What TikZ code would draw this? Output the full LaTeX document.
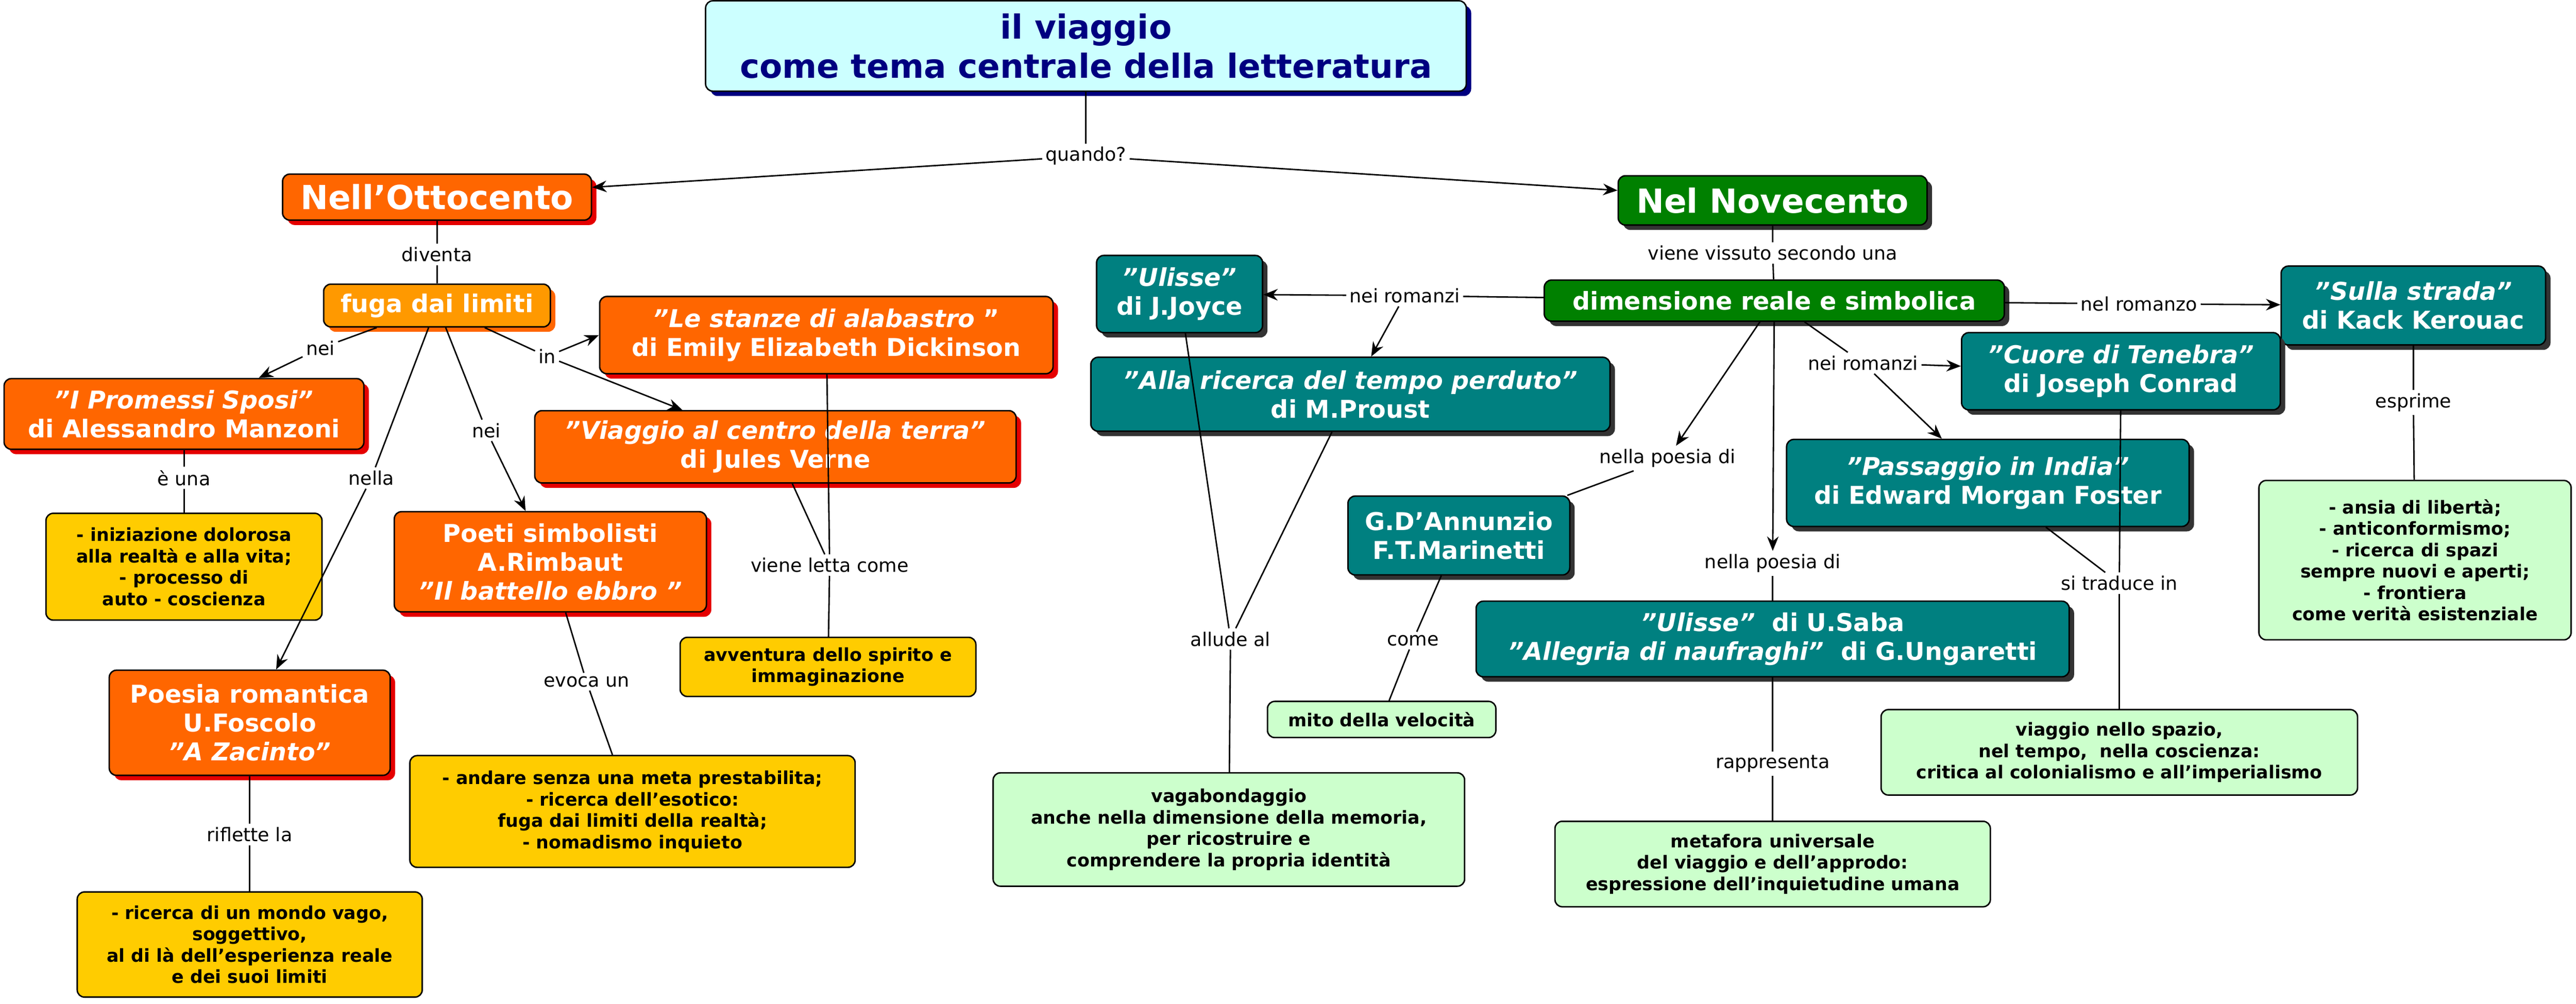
\documentclass[tikz,border=0pt]{standalone}
\usepackage{fontspec}
\setmainfont{DejaVu Sans}
\usetikzlibrary{shadows,arrows.meta}
\definecolor{org}{HTML}{FF6600}
\definecolor{org2}{HTML}{FF9900}
\definecolor{grn}{HTML}{008000}
\definecolor{teal2}{HTML}{008080}
\definecolor{yel}{HTML}{FFCC00}
\definecolor{lgr}{HTML}{CCFFCC}
\definecolor{navy2}{HTML}{000080}
\definecolor{cyan2}{HTML}{CCFFFF}
\begin{document}
\begin{tikzpicture}[x=0.02cm,y=-0.02cm,
 sz/.style 2 args={minimum width=#1*0.02cm, minimum height=#2*0.02cm},
 base/.style={draw=black, rounded corners=2.5pt, align=center, inner sep=1pt, line width=0.5pt},
 con/.style={base, fill=#1, text=white, font=\bfseries\fontsize{8.5}{10}\selectfont},
 cshadow/.style={drop shadow={shadow xshift=1.7pt, shadow yshift=-1.7pt, fill=#1, opacity=1}},
 ora/.style={con=org, cshadow=red!90!black},
 tea/.style={con=teal2, cshadow=black!80},
 gre/.style={con=grn, cshadow=black!80},
 yb/.style={base, fill=yel, font=\bfseries\fontsize{6.2}{7.4}\selectfont},
 gb/.style={base, fill=lgr, font=\bfseries\fontsize{6.2}{7.4}\selectfont},
 lab/.style={fill=white, inner sep=1pt, font=\fontsize{6.5}{7.5}\selectfont},
 ln/.style={line width=0.5pt},
 ar/.style={line width=0.5pt, -{Stealth[length=5pt,width=4pt]}}]
\useasboundingbox (0,0) rectangle (1568,611);
% title
\node[base, fill=cyan2, text=navy2, font=\bfseries\fontsize{11.5}{13.5}\selectfont, sz={463}{55}, cshadow=navy2] (title) at (661,28) {il viaggio\\come tema centrale della letteratura};
\node[lab] (quando) at (661,95) {quando?};
\node[ora, font=\bfseries\fontsize{11.5}{13}\selectfont, sz={188}{28}] (otto) at (266,120) {Nell'Ottocento};
\node[gre, font=\bfseries\fontsize{11.5}{13}\selectfont, sz={188}{30}] (nove) at (1079,122) {Nel Novecento};
% Ottocento branch
\node[lab] (diventa) at (266,155) {diventa};
\node[con=org2, cshadow=org, sz={138}{26}] (fuga) at (266,186) {fuga dai limiti};
\node[lab] (nei1) at (195,212) {nei};
\node[lab] (nella1) at (226,291) {nella};
\node[lab] (nei2) at (296,262) {nei};
\node[lab] (in1) at (333,217) {in};
\node[ora, sz={219}{43}] (spos) at (112,252) {\textit{"I Promessi Sposi"}\\di Alessandro Manzoni};
\node[lab] (euna) at (112,291) {è una};
\node[yb, sz={168}{65}] (iniz) at (112,345) {- iniziazione dolorosa\\alla realtà e alla vita;\\- processo di\\auto - coscienza};
\node[ora, sz={171}{64}] (poes) at (152,440) {Poesia romantica\\U.Foscolo\\\textit{"A Zacinto"}};
\node[lab] (rifl) at (152,508) {riflette la};
\node[yb, sz={210}{64}] (ricm) at (152,575) {- ricerca di un mondo vago,\\soggettivo,\\al di là dell'esperienza reale\\e dei suoi limiti};
\node[ora, sz={276}{47}] (stan) at (503,204) {\textit{"Le stanze di alabastro }"\\di Emily Elizabeth Dickinson};
\node[ora, sz={293}{44}] (verne) at (472,272) {\textit{"Viaggio al centro della terra"}\\di Jules Verne};
\node[ora, sz={190}{61}] (simb) at (335,342) {Poeti simbolisti\\A.Rimbaut\\\textit{"Il battello ebbro "}};
\node[lab] (letta) at (505,344) {viene letta come};
\node[yb, sz={180}{36}] (avv) at (504,406) {avventura dello spirito e\\immaginazione};
\node[lab] (evoca) at (357,415) {evoca un};
\node[yb, sz={271}{68}] (andare) at (385,494) {- andare senza una meta prestabilita;\\- ricerca dell'esotico:\\fuga dai limiti della realtà;\\- nomadismo inquieto};
% Novecento branch
\node[lab] (vissuto) at (1079,154) {viene vissuto secondo una};
\node[gre, sz={280}{25}] (dim) at (1080,183) {dimensione reale e simbolica};
\node[lab] (rom1) at (855,180) {nei romanzi};
\node[tea, sz={101}{47}] (joyce) at (718,179) {\textit{"Ulisse"}\\di J.Joyce};
\node[tea, sz={316}{45}] (proust) at (822,240) {\textit{"Alla ricerca del tempo perduto"}\\di M.Proust};
\node[lab] (allude) at (749,389) {allude al};
\node[gb, sz={287}{69}] (vaga) at (748,505) {vagabondaggio\\anche nella dimensione della memoria,\\per ricostruire e\\comprendere la propria identità};
\node[lab] (rom2) at (1134,221) {nei romanzi};
\node[lab] (nelrom) at (1302,185) {nel romanzo};
\node[tea, sz={161}{48}] (kerouac) at (1469,186) {\textit{"Sulla strada"}\\di Kack Kerouac};
\node[lab] (esprime) at (1469,245) {esprime};
\node[gb, sz={190}{97}] (ansia) at (1470,341) {- ansia di libertà;\\- anticonformismo;\\- ricerca di spazi\\sempre nuovi e aperti;\\- frontiera\\come verità esistenziale};
\node[tea, sz={194}{47}] (conrad) at (1291,226) {\textit{"Cuore di Tenebra"}\\di Joseph Conrad};
\node[tea, sz={245}{53}] (foster) at (1210,294) {\textit{"Passaggio in India"}\\di Edward Morgan Foster};
\node[lab] (traduce) at (1290,355) {si traduce in};
\node[gb, sz={290}{52}] (spazio) at (1290,458) {viaggio nello spazio,\\nel tempo,\ \ nella coscienza:\\critica al colonialismo e all'imperialismo};
\node[lab] (poesia1) at (1015,279) {nella poesia di};
\node[tea, sz={135}{48}] (dann) at (888,326) {G.D'Annunzio\\F.T.Marinetti};
\node[lab] (come) at (860,390) {come};
\node[gb, sz={139}{22}] (mito) at (841,438) {mito della velocità};
\node[lab] (poesia2) at (1079,343) {nella poesia di};
\node[tea, sz={361}{46}] (saba) at (1079,389) {\textit{"Ulisse"}\ \ di U.Saba\\\textit{"Allegria di naufraghi"}\ \ di G.Ungaretti};
\node[lab] (rappr) at (1079,465) {rappresenta};
\node[gb, sz={265}{52}] (meta) at (1079,526) {metafora universale\\del viaggio e dell'approdo:\\espressione dell'inquietudine umana};
% connectors
\draw[ln] (title) -- (quando);
\draw[ar] (quando) -- (otto);
\draw[ar] (quando) -- (nove);
\draw[ln] (otto) -- (diventa) -- (fuga);
\draw[ln] (fuga) -- (nei1); \draw[ar] (nei1) -- (spos);
\draw[ln] (fuga) -- (nella1); \draw[ar] (nella1) -- (poes);
\draw[ln] (fuga) -- (nei2); \draw[ar] (nei2) -- (simb);
\draw[ln] (fuga) -- (in1); \draw[ar] (in1) -- (stan.west); \draw[ar] (in1) -- (verne);
\draw[ln] (spos) -- (euna) -- (iniz);
\draw[ln] (poes) -- (rifl) -- (ricm);
\draw[ln] (stan) -- (letta); \draw[ln] (verne) -- (letta); \draw[ln] (letta) -- (avv);
\draw[ln] (simb) -- (evoca) -- (andare);
\draw[ln] (nove) -- (vissuto) -- (dim);
\draw[ln] (dim) -- (rom1); \draw[ar] (rom1) -- (joyce); \draw[ar] (rom1) -- (proust);
\draw[ln] (joyce) -- (allude); \draw[ln] (proust) -- (allude); \draw[ln] (allude) -- (vaga);
\draw[ln] (dim) -- (nelrom); \draw[ar] (nelrom) -- (kerouac);
\draw[ln] (kerouac) -- (esprime) -- (ansia);
\draw[ln] (dim) -- (rom2); \draw[ar] (rom2) -- (conrad); \draw[ar] (rom2) -- (foster);
\draw[ln] (conrad) -- (traduce); \draw[ln] (foster) -- (traduce); \draw[ln] (traduce) -- (spazio);
\draw[ar] (dim) -- (poesia1); \draw[ln] (poesia1) -- (dann);
\draw[ln] (dann) -- (come) -- (mito);
\draw[ar] (dim) -- (poesia2); \draw[ln] (poesia2) -- (saba);
\draw[ln] (saba) -- (rappr) -- (meta);
\end{tikzpicture}
\end{document}
